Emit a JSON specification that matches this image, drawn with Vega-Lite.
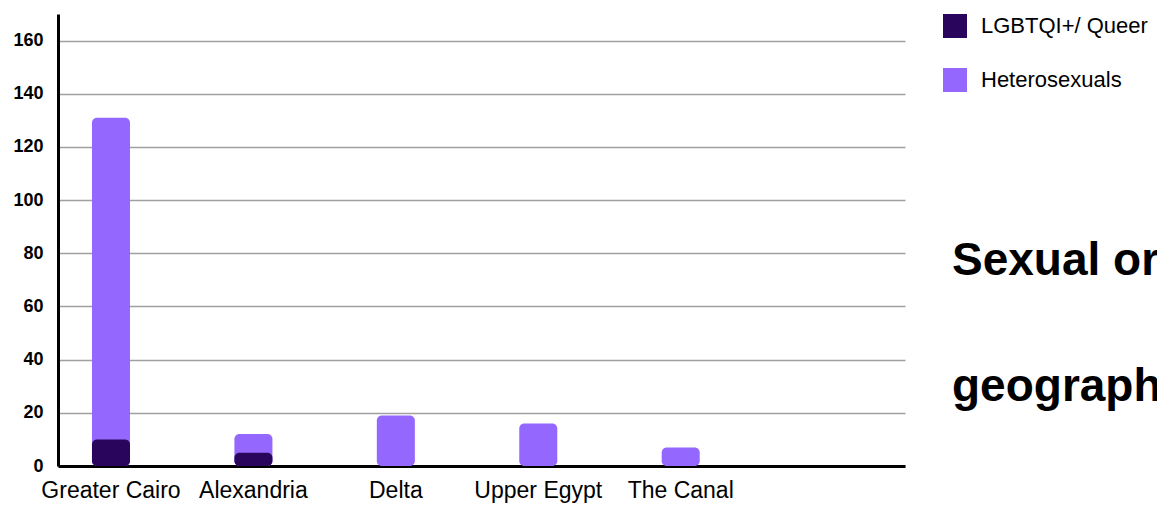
{
  "$schema": "https://vega.github.io/schema/vega-lite/v6.json",
  "autosize": "none",
  "width": 847,
  "height": 452,
  "padding": {"left": 58, "top": 14, "right": 252, "bottom": 40},
  "background": "white",
  "config": {
    "view": {"stroke": null},
    "axis": {"labelColor": "#000000"}
  },
  "layer": [
    {
      "data": {
        "values": [
          {"region": "Greater Cairo", "group": "Heterosexuals", "count": 121},
          {"region": "Alexandria", "group": "Heterosexuals", "count": 7},
          {"region": "Delta", "group": "Heterosexuals", "count": 19},
          {"region": "Upper Egypt", "group": "Heterosexuals", "count": 16},
          {"region": "The Canal", "group": "Heterosexuals", "count": 7},
          {"region": "Greater Cairo", "group": "LGBTQI+/ Queer", "count": 10},
          {"region": "Alexandria", "group": "LGBTQI+/ Queer", "count": 5},
          {"region": "Delta", "group": "LGBTQI+/ Queer", "count": 0},
          {"region": "Upper Egypt", "group": "LGBTQI+/ Queer", "count": 0},
          {"region": "The Canal", "group": "LGBTQI+/ Queer", "count": 0}
        ]
      },
      "transform": [
        {"filter": "datum.count > 0"},
        {"stack": "count", "groupby": ["region"], "sort": [{"field": "group", "order": "descending"}], "as": ["y0", "y1"]}
      ],
      "mark": {"type": "bar", "cornerRadius": 5},
      "encoding": {
        "x": {
          "field": "region",
          "type": "nominal",
          "sort": ["Greater Cairo", "Alexandria", "Delta", "Upper Egypt", "The Canal"],
          "scale": {"paddingInner": 0.733, "paddingOuter": 0.84, "align": 0.142},
          "axis": {
            "title": null,
            "labelAngle": 0,
            "labelFont": "Liberation Sans",
            "labelFontSize": 23,
            "labelColor": "#000000",
            "labelPadding": 13,
            "labelDx": 9,
            "ticks": false,
            "domainColor": "#000000",
            "domainWidth": 3,
            "grid": false
          }
        },
        "y": {
          "field": "y1",
          "type": "quantitative",
          "scale": {"domain": [0, 170], "nice": false},
          "axis": {
            "title": null,
            "values": [0, 20, 40, 60, 80, 100, 120, 140, 160],
            "labelFont": "Liberation Sans",
            "labelFontWeight": "bold",
            "labelFontSize": 18,
            "labelColor": "#000000",
            "labelPadding": 15,
            "ticks": false,
            "domainColor": "#000000",
            "domainWidth": 3,
            "grid": true,
            "gridColor": "#a0a0a0",
            "gridWidth": 1.5
          }
        },
        "y2": {"datum": 0},
        "color": {
          "field": "group",
          "type": "nominal",
          "scale": {"domain": ["LGBTQI+/ Queer", "Heterosexuals"], "range": ["#29065b", "#9468fe"]},
          "legend": {
            "title": null,
            "orient": "right",
            "offset": 38,
            "padding": 0,
            "symbolType": "square",
            "symbolSize": 576,
            "symbolStrokeWidth": 0,
            "symbolOpacity": 1,
            "labelFont": "Liberation Sans",
            "labelFontSize": 22,
            "labelColor": "#000000",
            "labelOffset": 14,
            "labelLimit": 400,
            "rowPadding": 30
          }
        }
      }
    },
    {
      "data": {"values": [{"caption": "Sexual orientation by geographic region"}]},
      "mark": {
        "type": "text",
        "text": ["Sexual orientation by", "geographic region"],
        "lineHeight": 126,
        "align": "left",
        "baseline": "alphabetic",
        "x": "width",
        "dx": 47,
        "font": "Liberation Sans",
        "fontSize": 46,
        "fontWeight": "bold",
        "color": "#000000"
      },
      "encoding": {
        "y": {"datum": 72}
      }
    }
  ]
}
